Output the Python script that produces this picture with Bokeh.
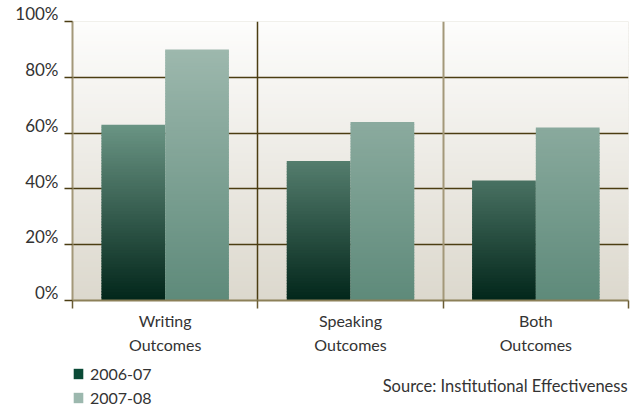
import numpy as np
from bokeh.plotting import figure
from bokeh.layouts import column
from bokeh.models import (Range1d, FixedTicker, Grid, Legend, LegendItem,
                          ColumnDataSource)
from bokeh.core.properties import value
from bokeh.embed import file_html
from bokeh.resources import INLINE

# ---------------- data ----------------
categories = ["Writing\nOutcomes", "Speaking\nOutcomes", "Both\nOutcomes"]
series_names = ["2006-07", "2007-08"]
values_2006 = [63, 50, 43]
values_2007 = [90, 64, 62]
y_ticks = [0, 20, 40, 60, 80, 100]
y_tick_labels = ["0%", "20%", "40%", "60%", "80%", "100%"]
source_text = "Source: Institutional Effectiveness"

# ---------------- styles ----------------
FONT = "Lato"
TXT = "#333333"
GRID_DARK = "#4b3d12"
GRID_LIGHT = "#a39879"
BASE_LINE = "#8c8058"
BG_BOTTOM = (220, 216, 205)
BG_TOP = (253, 253, 252)
DARK_BOTTOM = (2, 38, 26)
DARK_TOP = (167, 213, 194)
LIGHT_BOTTOM = (94, 138, 122)
LIGHT_TOP = (164, 189, 179)
LEGEND_DARK = "#0a4a36"
LEGEND_LIGHT = "#9cb8ae"

W = 630
H1, H2 = 358, 49
p = figure(width=W, height=H1, x_range=Range1d(0, 3), y_range=Range1d(0, 100),
           output_backend="svg", toolbar_location=None,
           min_border_left=72, min_border_right=2, min_border_top=21,
           min_border_bottom=H1 - 300)
p.border_fill_color = "white"
p.background_fill_color = "#%02x%02x%02x" % BG_BOTTOM
p.outline_line_color = None


def lerp(c0, c1, t):
    t = max(0.0, min(1.0, t))
    return "#%02x%02x%02x" % tuple(int(round(a + (b - a) * t)) for a, b in zip(c0, c1))


# background gradient (drawn at image level, below grid)
steps = np.arange(0, 100, 1.0)
bg = ColumnDataSource(dict(
    left=[0] * len(steps), right=[3] * len(steps),
    bottom=list(steps), top=list(np.minimum(steps + 1.3, 100)),
    color=[lerp(BG_BOTTOM, BG_TOP, (s + 0.5) / 100) for s in steps]))
r_bg = p.quad(left="left", right="right", bottom="bottom", top="top",
              fill_color="color", line_color=None, source=bg)
r_bg.level = "image"

# grids
p.xgrid.visible = False
p.ygrid.ticker = FixedTicker(ticks=[20, 40, 60, 80])
p.ygrid.grid_line_color = GRID_DARK
p.ygrid.grid_line_width = 1.5
p.add_layout(Grid(dimension=1, ticker=FixedTicker(ticks=[100]), grid_line_color=GRID_DARK,
                  grid_line_width=3))
p.add_layout(Grid(dimension=0, ticker=FixedTicker(ticks=[1]), grid_line_color=GRID_DARK,
                  grid_line_width=1.5))
p.add_layout(Grid(dimension=0, ticker=FixedTicker(ticks=[3]), grid_line_color=GRID_DARK,
                  grid_line_width=4))
p.add_layout(Grid(dimension=0, ticker=FixedTicker(ticks=[2]), grid_line_color=GRID_LIGHT,
                  grid_line_width=2))

# bars with vertical gradient (sliced)
width = 0.344
offsets = [-0.172, 0.172]
series = [values_2006, values_2007]
ramps = [(DARK_BOTTOM, DARK_TOP), (LIGHT_BOTTOM, LIGHT_TOP)]
for vals, off, (c0, c1) in zip(series, offsets, ramps):
    xs, bots, tops, cols = [], [], [], []
    for i, v in enumerate(vals):
        k = 0.0
        while k < v:
            xs.append(i + 0.5 + off)
            bots.append(k)
            tops.append(min(k + 1.3, v))
            cols.append(lerp(c0, c1, (k + 0.5) / 100))
            k += 1.0
    src = ColumnDataSource(dict(x=xs, bottom=bots, top=tops, color=cols))
    p.vbar(x="x", width=width, bottom="bottom", top="top", fill_color="color",
           line_color=None, source=src)

# axes
xa = p.xaxis[0]
xa.ticker = FixedTicker(ticks=[0.5, 1.5, 2.5], minor_ticks=[0, 1, 2, 3])
xa.major_label_overrides = {i + 0.5: c for i, c in enumerate(categories)}
xa.major_tick_line_color = None
xa.major_tick_out = 0
xa.major_tick_in = 0
xa.minor_tick_out = 8
xa.minor_tick_in = 0
xa.minor_tick_line_color = "#6b5d35"
xa.minor_tick_line_width = 1.5
xa.axis_line_color = BASE_LINE
xa.axis_line_width = 2
xa.major_label_text_font = FONT
xa.major_label_text_font_size = "16px"
xa.major_label_text_color = TXT
xa.major_label_standoff = 2
xa.major_label_text_line_height = 1.3

ya = p.yaxis[0]
ya.ticker = FixedTicker(ticks=y_ticks)
# trailing blank line lifts each label so it sits just above its tick line
ya.major_label_overrides = {t: l + "\n " for t, l in zip(y_ticks, y_tick_labels)}
ya.minor_tick_line_color = None
ya.major_tick_out = 8
ya.major_tick_in = 0
ya.major_tick_line_color = GRID_DARK
ya.major_tick_line_width = 1.5
ya.axis_line_color = GRID_LIGHT
ya.axis_line_width = 2
ya.major_label_text_font = FONT
ya.major_label_text_font_size = "17px"
ya.major_label_text_color = TXT
ya.major_label_standoff = 6
ya.major_label_text_line_height = 0.75
ya.major_label_text_align = "right"

# ---------------- legend + source strip ----------------
p2 = figure(width=W, height=H2, x_range=Range1d(0, W), y_range=Range1d(0, H2),
            output_backend="svg", toolbar_location=None,
            min_border_left=0, min_border_right=0, min_border_top=0, min_border_bottom=0)
p2.axis.visible = False
p2.grid.visible = False
p2.outline_line_color = None
p2.background_fill_color = "white"
p2.border_fill_color = "white"

# legend proxies placed outside the visible range (only their legend swatch shows)
rd = p2.quad(left=[-60], right=[-50], bottom=[-60], top=[-50], fill_color=LEGEND_DARK,
             line_color=None)
rl = p2.quad(left=[-60], right=[-50], bottom=[-60], top=[-50], fill_color=LEGEND_LIGHT,
             line_color=None)
legend = Legend(items=[LegendItem(label=series_names[0], renderers=[rd]),
                       LegendItem(label=series_names[1], renderers=[rl])],
                location=(0, 0), orientation="vertical", padding=0, margin=0,
                spacing=4, glyph_width=12, glyph_height=13, label_height=20,
                label_standoff=6, border_line_color=None, background_fill_alpha=0,
                label_text_font=FONT, label_text_font_size="16px",
                label_text_color=TXT)
p2.add_layout(legend, "center")

p2.text(x=[629], y=[22], text=[source_text], text_align="right", text_baseline="middle",
        text_font=value(FONT), text_font_size="16.5px", text_color=TXT)

layout = column(p, p2, spacing=0)
open("out.html", "w").write(file_html(layout, INLINE))
